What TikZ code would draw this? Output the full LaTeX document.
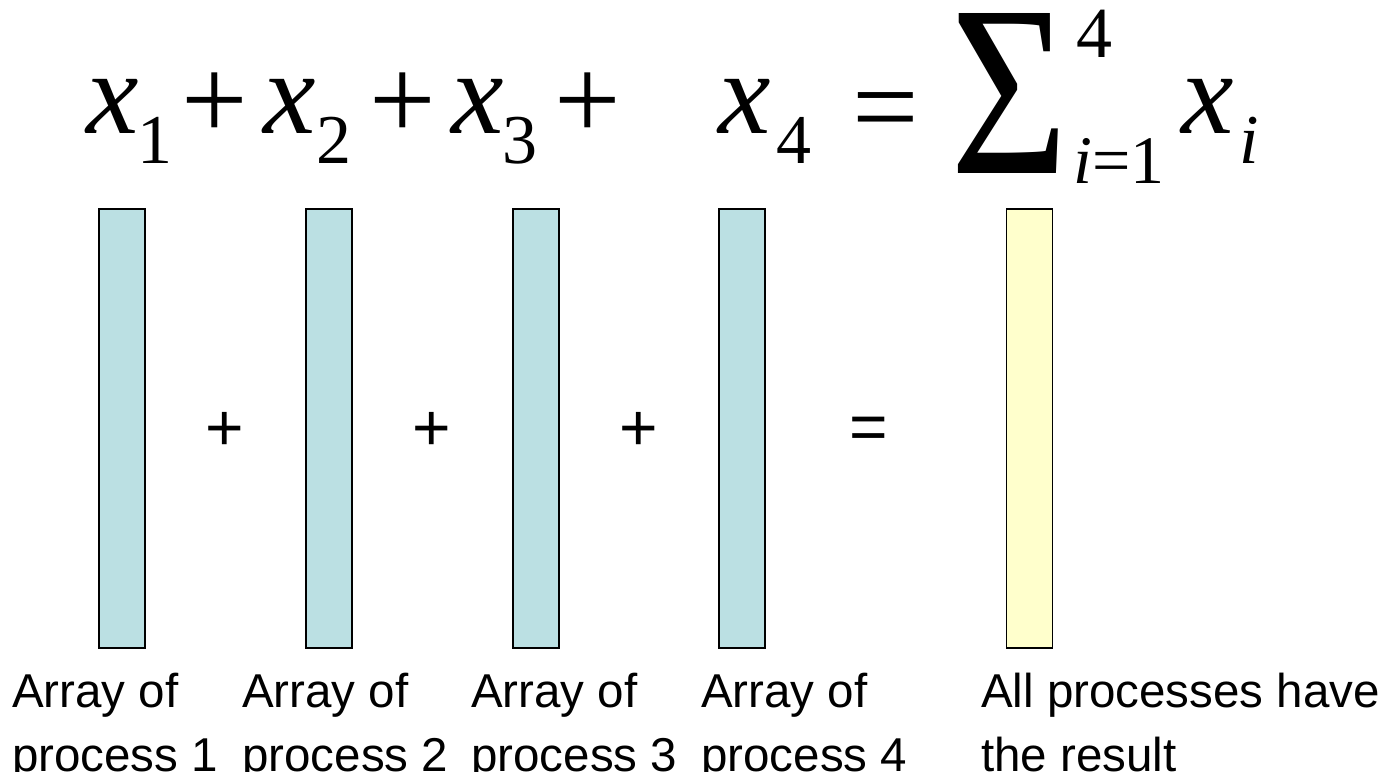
\documentclass[tikz,border=0pt]{standalone}
\usepackage{fontspec}
\setmainfont{Liberation Serif}
\newfontfamily\arialfont{Liberation Sans}
\definecolor{barcyan}{RGB}{187,224,227}
\definecolor{baryellow}{RGB}{255,255,204}
\begin{document}
\begin{tikzpicture}[x=1pt,y=-1pt,
  mx/.style={inner sep=0pt, anchor=base west, font=\fontsize{118}{118}\selectfont\itshape},
  subn/.style={inner sep=0pt, anchor=base west, font=\fontsize{70}{70}\selectfont},
  subi/.style={inner sep=0pt, anchor=base west, font=\fontsize{70}{70}\selectfont\itshape},
  bigop/.style={inner sep=0pt, anchor=center, font=\fontsize{118}{118}\selectfont},
  bar/.style={draw=black, line width=1.5pt, inner sep=0pt, minimum width=46pt, minimum height=439pt},
  smallop/.style={inner sep=0pt, anchor=center, font=\arialfont\fontsize{66}{66}\selectfont},
  lbl/.style={inner sep=0pt, anchor=north west, align=left, font=\arialfont\fontsize{47.5}{64}\selectfont}]
\path[use as bounding box] (0,0) rectangle (1394,771);
% formula
\node[mx] (x1) at (86,133) {x};
\node[subn] (s1) at (137,163) {1};
\node[bigop] (p1) at (215,106) {+};
\node[mx] (x2) at (263,133) {x};
\node[subn] (s2) at (316,163) {2};
\node[bigop] (p2) at (403,106) {+};
\node[mx] (x3) at (451,133) {x};
\node[subn] (s3) at (502,163) {3};
\node[bigop] (p3) at (588,106) {+};
\node[mx] (x4) at (718,133) {x};
\node[subn] (s4) at (776,163) {4};
\node[bigop] (eq) at (886,120) {=};
\node[inner sep=0pt, anchor=north west] (sig) at (950,13) {\resizebox*{118pt}{160pt}{Σ}};
\node[inner sep=0pt, anchor=base west, font=\fontsize{72}{72}\selectfont] (up) at (1076,57) {4};
\node[inner sep=0pt, anchor=base west, font=\fontsize{68}{68}\selectfont] (low) at (1073,183) {\textit{i}=1};
\node[mx] (xi) at (1181,133) {x};
\node[subi] (si) at (1239,163) {i};
% bars
\node[bar, fill=barcyan] (b1) at (122,428.5) {};
\node[bar, fill=barcyan] (b2) at (329,428.5) {};
\node[bar, fill=barcyan] (b3) at (536,428.5) {};
\node[bar, fill=barcyan] (b4) at (742,428.5) {};
\node[bar, fill=baryellow] (b5) at (1029.5,428.5) {};
% operators between bars
\node[smallop] (o1) at (225,431) {+};
\node[smallop] (o2) at (432,431) {+};
\node[smallop] (o3) at (639,431) {+};
\node[smallop] (o4) at (869,433) {=};
% labels
\node[lbl] (l1) at (12,673) {Array of\\process 1};
\node[lbl] (l2) at (242,673) {Array of\\process 2};
\node[lbl] (l3) at (471,673) {Array of\\process 3};
\node[lbl] (l4) at (701,673) {Array of\\process 4};
\node[lbl] (l5) at (981,673) {All processes have\\the result};
\end{tikzpicture}
\end{document}
